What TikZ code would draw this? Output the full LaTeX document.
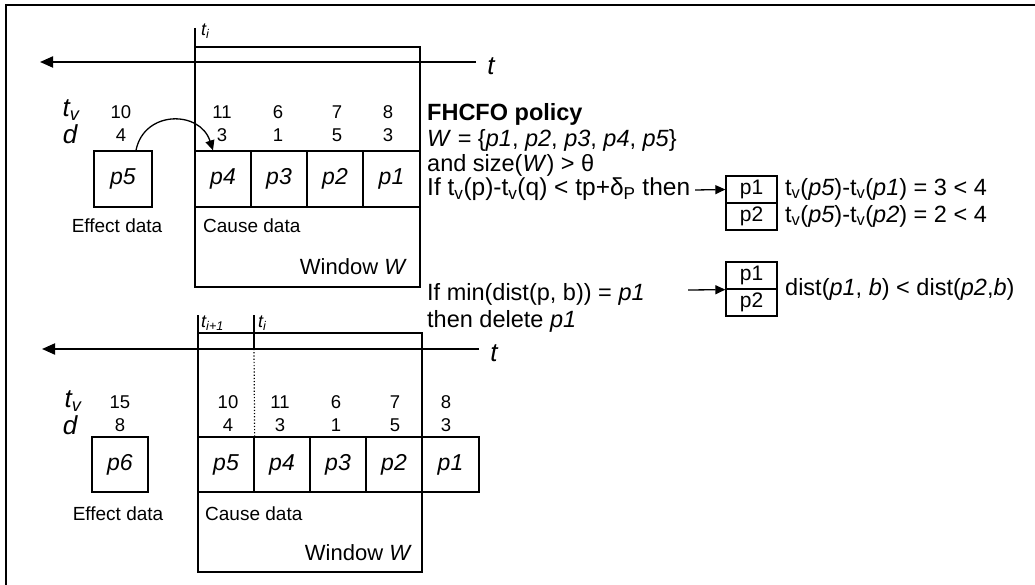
\documentclass[tikz,border=0pt]{standalone}
\usepackage{fontspec}
\setmainfont{Liberation Sans}
\usetikzlibrary{arrows.meta}

\begin{document}
\begin{tikzpicture}[x=1pt,y=-1pt,
  frame/.style={line width=2pt},
  box/.style={draw, line width=1.3pt},
  cell/.style={draw, line width=1.3pt, minimum width=56pt, minimum height=56pt,
    inner sep=0pt, font=\fontsize{23}{25}\selectfont\itshape},
  pair/.style={draw, line width=1.3pt, minimum width=51pt, minimum height=27pt,
    inner sep=0pt, font=\fontsize{21}{23}\selectfont},
  num/.style={font=\fontsize{18.5}{20}\selectfont, inner sep=0pt},
  txt/.style={font=\fontsize{19}{22}\selectfont, inner sep=0pt},
  rtxt/.style={font=\fontsize{23.5}{26}\selectfont, inner sep=0pt, anchor=west},
  big/.style={font=\fontsize{26}{28}\selectfont\itshape, inner sep=0pt},
  tick/.style={font=\fontsize{18}{20}\selectfont\itshape, inner sep=0pt, anchor=west},
  axis/.style={line width=2pt, -{Triangle[length=13pt,width=11pt]}},
  arr/.style={line width=1.3pt, -{Triangle[length=10pt,width=9pt]}}]
\useasboundingbox (0,0) rectangle (1035,585);

% outer frame (top and left edges)
\draw[frame] (6,585) -- (6,5) -- (1035,5);

% ---------------- upper stage ----------------
\coordinate (wA) at (195,47);
\coordinate (wB) at (420,287);
\draw[box] (wA) rectangle (wB);
\coordinate (tiTop) at (195,28);
\draw[box] (tiTop) -- (wA);
\node[tick] (ti) at (201,31) {t\textsubscript{\textit{i}}};

\coordinate (axR) at (476,62);
\coordinate (axL) at (40,62);
\draw[axis] (axR) -- (axL);
\node[big] (tA) at (491,66) {t};

\node[big, text height=17pt, text depth=4pt] (tvA) at (71,110) {t\textsubscript{\textit{v}}};
\node[big, text height=16pt, text depth=0pt] (dA) at (70,136) {d};

\node[cell, minimum width=58pt] (p5) at (123,179) {p5};
\node[cell] (p4) at (223,179) {p4};
\node[cell] (p3) at (279,179) {p3};
\node[cell] (p2) at (335,179) {p2};
\node[cell] (p1) at (391.5,179) {p1};

\foreach \x/\a/\b [count=\i] in {121/10/4, 222/11/3, 278/6/1, 337/7/5, 388/8/3} {
  \node[num] (tvA\i) at (\x,112) {\a};
  \node[num] (dA\i) at (\x,135) {\b};
}

\draw[arr] ([xshift=13pt]p5.north) .. controls (144,110) and (200,110) .. ([xshift=-10pt]p4.north);

\node[txt] (effA) at (117,226) {Effect data};
\node[txt, anchor=west] (causeA) at (203,226) {Cause data};
\node[txt, anchor=east, font=\fontsize{22}{24}\selectfont] (winA) at (407,267) {Window \textit{W}};

% policy text
\node[rtxt, font=\fontsize{23.5}{26}\selectfont\bfseries] (pol) at (427,114) {FHCFO policy};
\node[rtxt] (setW) at (427,140) {\textit{W} = \{\textit{p1}, \textit{p2}, \textit{p3}, \textit{p4}, \textit{p5}\}};
\node[rtxt] (sizeW) at (427,165) {and size(\textit{W}) > θ};
\node[rtxt, font=\fontsize{24.5}{26}\selectfont] (cond) at (427,189) {If t\textsubscript{v}(p)-t\textsubscript{v}(q) < tp+δ\textsubscript{P} then};

\node[pair] (qa1) at (751.5,189.5) {p1};
\node[pair] (qa2) at (751.5,216.5) {p2};
\coordinate (c1) at (695,190);
\draw[arr] (c1) -- (qa1.west);
\node[rtxt] (ra1) at (785,189) {t\textsubscript{v}(\textit{p5})-t\textsubscript{v}(\textit{p1}) = 3 < 4};
\node[rtxt] (ra2) at (785,216) {t\textsubscript{v}(\textit{p5})-t\textsubscript{v}(\textit{p2}) = 2 < 4};

\node[rtxt] (minD) at (427,294) {If min(dist(p, b)) = \textit{p1}};
\node[rtxt] (del) at (427,321) {then delete \textit{p1}};
\node[pair] (qb1) at (751.5,275.5) {p1};
\node[pair] (qb2) at (751.5,302.5) {p2};
\coordinate (qbL) at (688,290);
\draw[arr] (qbL) -- (qb1.south west);
\node[rtxt] (rb) at (785,289) {dist(\textit{p1}, \textit{b}) < dist(\textit{p2},\textit{b})};

% ---------------- lower stage ----------------
\coordinate (wC) at (198,333);
\coordinate (wD) at (422,572);
\draw[box] (wC) rectangle (wD);
\coordinate (t1Top) at (198,315);
\draw[box] (t1Top) -- (wC);
\coordinate (t2Top) at (254,315);
\coordinate (t2Ax) at (254,349);
\draw[box] (t2Top) -- (t2Ax);
\node[tick] (ti1) at (201,323) {t\textsubscript{\textit{i}+1}};
\node[tick] (ti2) at (258,323) {t\textsubscript{\textit{i}}};

\coordinate (axR2) at (479,349);
\coordinate (axL2) at (42,349);
\draw[axis] (axR2) -- (axL2);
\node[big] (tB) at (494,353) {t};

\node[big, text height=17pt, text depth=4pt] (tvB) at (73,401) {t\textsubscript{\textit{v}}};
\node[big, text height=16pt, text depth=0pt] (dB) at (70,426) {d};

\node[cell, minimum height=55pt] (q6) at (120,464.5) {p6};
\node[cell, minimum height=55pt] (q5) at (226,464.5) {p5};
\node[cell, minimum height=55pt] (q4) at (282,464.5) {p4};
\node[cell, minimum height=55pt] (q3) at (338,464.5) {p3};
\node[cell, minimum height=55pt] (q2) at (394,464.5) {p2};
\node[cell, minimum height=55pt, minimum width=57pt] (q1) at (450.5,464.5) {p1};

\draw[line width=1.2pt, dotted] (t2Ax) -- (q5.north east);

\foreach \x/\a/\b [count=\i] in {120/15/8, 228/10/4, 280/11/3, 336/6/1, 395/7/5, 446/8/3} {
  \node[num] (tvB\i) at (\x,402) {\a};
  \node[num] (dB\i) at (\x,425) {\b};
}

\node[txt] (effB) at (118,514) {Effect data};
\node[txt, anchor=west] (causeB) at (205,514) {Cause data};
\node[txt, anchor=east, font=\fontsize{22}{24}\selectfont] (winB) at (412,553) {Window \textit{W}};
\end{tikzpicture}
\end{document}
